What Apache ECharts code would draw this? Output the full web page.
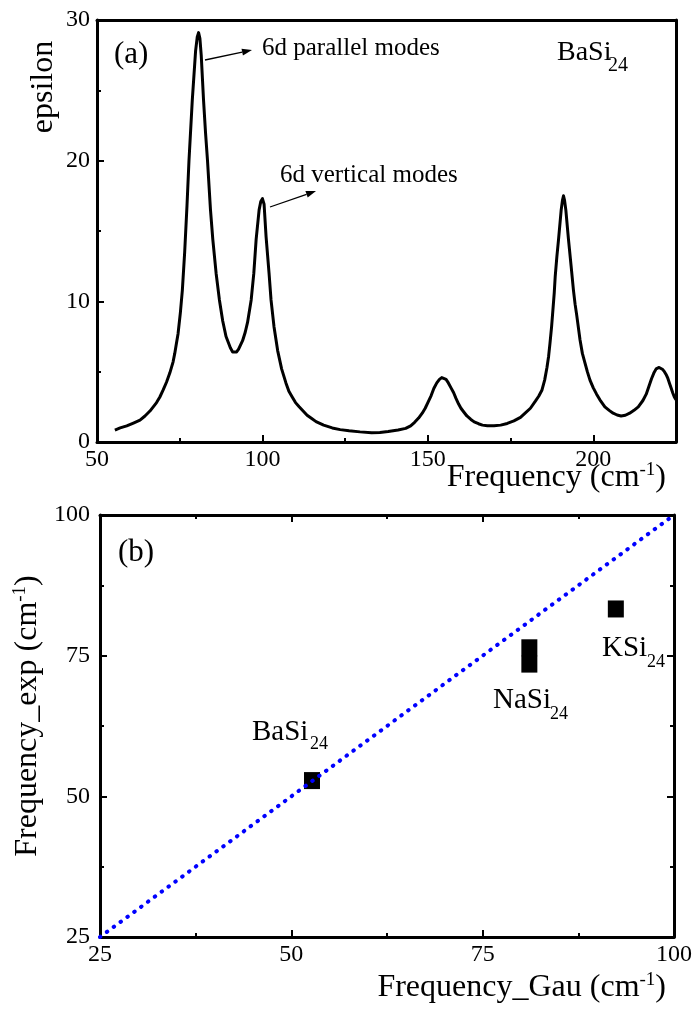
<!DOCTYPE html>
<html>
<head>
<meta charset="utf-8">
<script src="https://cdn.jsdelivr.net/npm/echarts@6/dist/echarts.min.js"></script>
<style>
  html, body { margin: 0; padding: 0; background: #fff; }
  #chart { width: 695px; height: 1009px; }
</style>
</head>
<body>
<div id="chart"></div>
<script>
// (a) epsilon spectrum of BaSi24
const freqA = [55.4, 57, 59, 61, 63, 64.5, 66, 67, 68, 69, 70, 71, 72, 73, 73.5, 74, 74.5, 75.2, 75.8, 76.5,
  77.2, 77.8, 78.8, 79.8, 80.3, 80.7, 81.1, 81.5, 82.2, 82.8, 83.4, 84.3, 85, 86, 87, 88, 89, 90.3, 91, 91.6,
  92.2, 92.8, 94, 94.8, 95.5, 96.6, 97.4, 98.1, 99, 99.5, 100, 100.5, 101.1, 102, 102.6, 103.5, 104.6, 105.8, 107.1, 108,
  109, 110, 111.1, 112.3, 113.5, 115, 116.2, 118.5, 121.1, 123.5, 126.2, 129.5, 133, 135.5, 138, 141, 143.3, 144.8, 146, 147.2,
  148.3, 149.2, 150, 151, 151.8, 152.7, 153.5, 154.2, 154.8, 155.5, 156.2, 157, 157.8, 158.5, 159.3, 160, 160.8, 161.8, 163, 164,
  165.3, 166.5, 168, 170, 172, 174, 176, 178, 179.4, 181, 182.5, 183.5, 184.5, 185.3, 186, 186.5, 186.9, 187.4, 187.8, 188.2,
  188.5, 189, 189.5, 190.3, 190.7, 191, 191.3, 191.7, 192.5, 193.3, 194, 194.5, 195, 196, 196.7, 197.5, 198.2, 199, 200, 201,
  202, 203.5, 204.8, 206, 207.2, 208.4, 209.7, 211, 212.3, 213.6, 215, 216, 216.8, 217.6, 218.3, 219, 219.5, 219.9, 220.5, 221,
  221.5, 222, 222.5, 223, 223.5, 224, 224.5, 225];
const epsA = [0.85, 1.0, 1.15, 1.35, 1.56, 1.85, 2.2, 2.5, 2.8, 3.2, 3.7, 4.25, 4.9, 5.7, 6.3, 7.0, 7.7, 9.2, 10.8, 13.5,
  16.8, 20, 24.3, 27.8, 28.8, 29.1, 28.7, 27.5, 24.3, 22, 20, 16.5, 14.4, 12, 10.1, 8.6, 7.5, 6.7, 6.4, 6.3,
  6.4, 6.6, 7.2, 7.8, 8.5, 10.1, 12, 14.4, 16.5, 17.1, 17.3, 16.9, 14.6, 12, 10.1, 8.2, 6.5, 5.2, 4.2, 3.6,
  3.2, 2.8, 2.5, 2.2, 1.9, 1.65, 1.45, 1.2, 1.0, 0.88, 0.8, 0.72, 0.66, 0.68, 0.75, 0.85, 0.97, 1.15, 1.4, 1.7,
  2.05, 2.4, 2.8, 3.3, 3.8, 4.2, 4.45, 4.58, 4.6, 4.45, 4.2, 3.85, 3.5, 3.1, 2.7, 2.4, 2.15, 1.85, 1.6, 1.43,
  1.3, 1.2, 1.15, 1.15, 1.2, 1.32, 1.5, 1.75, 2.05, 2.4, 2.9, 3.25, 3.7, 4.4, 5.3, 6.1, 7.0, 8.2, 9.4, 10.6,
  11.8, 13.2, 14.4, 16.5, 17.2, 17.5, 17.2, 16.5, 14.4, 12.5, 10.8, 9.8, 9, 7.25, 6.3, 5.6, 5.0, 4.4, 3.85, 3.4,
  3.0, 2.5, 2.25, 2.05, 1.92, 1.85, 1.9, 2.05, 2.25, 2.5, 2.95, 3.4, 3.95, 4.5, 4.9, 5.2, 5.28, 5.3, 5.25, 5.15,
  5.0, 4.8, 4.55, 4.2, 3.85, 3.5, 3.2, 3.0];

// (b) calculated (Gaussian) vs experimental frequencies
const compounds = ['BaSi24', 'NaSi24', 'NaSi24', 'KSi24'];
const freqGau = [52.7, 81.1, 81.1, 92.4];
const freqExp = [52.8, 76.4, 73.5, 83.3];
const diagLine = [25, 100];

const ticksA_x = [50, 225, 50];   // min, max, interval
const ticksA_y = [0, 30, 10];
const ticksB = [25, 100, 25];

const FONT = 'Liberation Serif';

let myChart = echarts.init(document.getElementById('chart'));

function axisCommon(gridIndex, range, position, withTicks, withLabels, margin) {
  return {
    type: 'value',
    gridIndex: gridIndex,
    position: position,
    min: range[0],
    max: range[1],
    interval: range[2],
    axisLine: { show: true, onZero: false, lineStyle: { color: '#000', width: 3 } },
    axisTick: { show: withTicks, inside: true, length: 7, lineStyle: { color: '#000', width: 2 } },
    minorTick: { show: withTicks, splitNumber: 2, length: 4, lineStyle: { color: '#000', width: 2 } },
    axisLabel: { show: withLabels, fontFamily: FONT, fontSize: 24, color: '#000', margin: margin },
    splitLine: { show: false },
    minorSplitLine: { show: false }
  };
}

function txt(x, y, text, size, extra) {
  return Object.assign({
    type: 'text', x: x, y: y, z: 100,
    style: { text: text, font: size + 'px "' + FONT + '"', fill: '#000', textAlign: 'left', textVerticalAlign: 'middle' }
  }, extra || {});
}

function supTitle(x, y, main, rot, align) {
  return {
    type: 'text', x: x, y: y, rotation: rot || 0, z: 100,
    style: {
      text: '{a|' + main + ' (cm}{s|-1}{a|)}',
      textAlign: align || 'center', textVerticalAlign: 'middle',
      rich: {
        a: { fontFamily: FONT, fontSize: 32, fill: '#000', lineHeight: 34, verticalAlign: 'middle' },
        s: { fontFamily: FONT, fontSize: 19, fill: '#000', lineHeight: 34, verticalAlign: 'top' }
      }
    }
  };
}

function arrow(x1, y1, x2, y2) {
  let dx = x2 - x1, dy = y2 - y1;
  let len = Math.sqrt(dx * dx + dy * dy);
  let ux = dx / len, uy = dy / len;
  let bx = x2 - ux * 10, by = y2 - uy * 10;
  return [
    { type: 'line', z: 100, shape: { x1: x1, y1: y1, x2: bx, y2: by }, style: { stroke: '#000', lineWidth: 1.3 } },
    { type: 'polygon', z: 100, shape: { points: [[x2, y2], [bx - uy * 3.5, by + ux * 3.5], [bx + uy * 3.5, by - ux * 3.5]] },
      style: { fill: '#000' } }
  ];
}

let xA = axisCommon(0, ticksA_x, 'bottom', true, true, 6);
xA.axisLabel.showMaxLabel = false;

let option = {
  backgroundColor: '#fff',
  animation: false,
  grid: [
    { left: 97, top: 20, width: 579, height: 422 },
    { left: 100, top: 515, width: 576, height: 422 }
  ],
  xAxis: [
    xA,
    axisCommon(0, ticksA_x, 'top', false, false, 6),
    axisCommon(1, ticksB, 'bottom', true, true, 6),
    axisCommon(1, ticksB, 'top', true, false, 6)
  ],
  yAxis: [
    axisCommon(0, ticksA_y, 'left', true, true, 7),
    axisCommon(0, ticksA_y, 'right', false, false, 7),
    axisCommon(1, ticksB, 'left', true, true, 10),
    axisCommon(1, ticksB, 'right', true, false, 10)
  ],
  series: [
    {
      name: 'epsilon',
      type: 'line',
      xAxisIndex: 0,
      yAxisIndex: 0,
      data: freqA.map((f, i) => [f, epsA[i]]),
      showSymbol: false,
      smooth: false,
      clip: true,
      lineStyle: { color: '#000', width: 3, join: 'round' },
      z: 3
    },
    {
      name: 'y = x',
      type: 'line',
      xAxisIndex: 2,
      yAxisIndex: 2,
      data: diagLine.map(v => [v, v]),
      showSymbol: false,
      lineStyle: { color: '#0000ff', width: 4, type: [0.5, 8], cap: 'round' },
      z: 4
    },
    {
      name: 'frequency',
      type: 'scatter',
      xAxisIndex: 2,
      yAxisIndex: 2,
      data: freqGau.map((g, i) => ({ name: compounds[i], value: [g, freqExp[i]] })),
      symbol: 'rect',
      symbolSize: [16, 17],
      itemStyle: { color: '#000', opacity: 1 },
      z: 2
    }
  ],
  graphic: [
    // panel (a) texts
    txt(114, 55, '(a)', 31),
    txt(262, 48, '6d parallel modes', 25),
    txt(280, 175, '6d vertical modes', 25),
    txt(557, 53, 'BaSi', 28),
    txt(608, 66, '24', 20),
    ...arrow(205, 60, 252, 50),
    ...arrow(270, 207, 316, 191),
    txt(44, 87, 'epsilon', 32, { rotation: Math.PI / 2, style: { text: 'epsilon', font: '32px "' + FONT + '"', fill: '#000', textAlign: 'center', textVerticalAlign: 'middle' } }),
    supTitle(666, 478, 'Frequency', 0, 'right'),
    // panel (b) texts
    txt(118, 553, '(b)', 31),
    txt(252, 732, 'BaSi', 29),
    txt(310, 744, '24', 18),
    txt(493, 700, 'NaSi', 29),
    txt(550, 714, '24', 18),
    txt(602, 648, 'KSi', 29),
    txt(647, 662, '24', 18),
    supTitle(28, 716, 'Frequency_exp', Math.PI / 2, 'center'),
    supTitle(666, 988, 'Frequency_Gau', 0, 'right')
  ]
};

myChart.setOption(option);
</script>
</body>
</html>
